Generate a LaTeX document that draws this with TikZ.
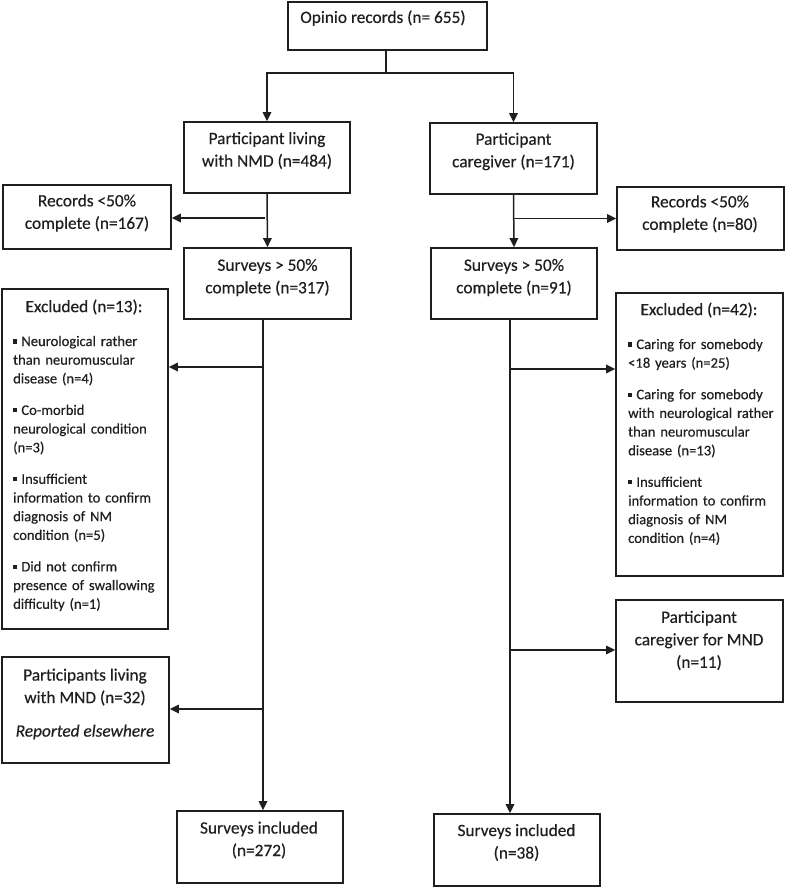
\documentclass[tikz,border=0pt]{standalone}
\usepackage{fontspec}
\setmainfont{Carlito}[FakeBold=0.4]
\usetikzlibrary{arrows.meta}
\newcommand{\sqb}{\rule[0.17em]{0.28em}{0.28em}\hspace{0.28em}}
\begin{document}
\begin{tikzpicture}[x=1pt,y=-1pt,
  box/.style={draw=black!88, line width=1.7pt, rectangle, inner sep=0pt},
  lbl/.style={align=center, inner sep=0pt, text=black!88, font=\fontsize{17.3}{22.5}\selectfont},
  blist/.style={align=left, text width=165pt, inner sep=0pt, anchor=base west, text=black!88, font=\fontsize{14.6}{18.7}\selectfont},
  conn/.style={draw=black!88, line width=1.5pt},
  arr/.style={conn, -{Triangle[length=9pt,width=8.5pt]}}]
\useasboundingbox (0,0) rectangle (787,887);
% boxes
\node[box, minimum width=199pt, minimum height=48pt] (op) at (387.5,26) {};
\node[box, minimum width=166pt, minimum height=71pt] (pl) at (267,157.5) {};
\node[box, minimum width=167pt, minimum height=71pt] (pc) at (513.5,158.5) {};
\node[box, minimum width=168pt, minimum height=64pt] (rl) at (87,217) {};
\node[box, minimum width=167pt, minimum height=63pt] (rr) at (700.5,218.5) {};
\node[box, minimum width=167pt, minimum height=71pt] (sl) at (267.5,283.5) {};
\node[box, minimum width=166pt, minimum height=71pt] (sr) at (514,283.5) {};
\node[box, minimum width=166pt, minimum height=340pt] (el) at (85,459) {};
\node[box, minimum width=167pt, minimum height=283pt] (er) at (699.5,434.5) {};
\node[box, minimum width=167pt, minimum height=106pt] (ml) at (85.5,710) {};
\node[box, minimum width=167pt, minimum height=102pt] (mr) at (699.5,651) {};
\node[box, minimum width=166pt, minimum height=72pt] (il) at (260,847) {};
\node[box, minimum width=166pt, minimum height=72pt] (ir) at (517,850) {};
% texts
\node[lbl] (opt) at (383,18) {Opinio records (n= 655)};
\node[lbl] (plt) at (267,150.5) {Participant living\\with NMD (n=484)};
\node[lbl] (pct) at (513.5,151.5) {Participant\\caregiver (n=171)};
\node[lbl] (rlt) at (87,213) {Records <50\%\\complete (n=167)};
\node[lbl] (rrt) at (700,214) {Records <50\%\\complete (n=80)};
\node[lbl] (slt) at (267.5,277.5) {Surveys > 50\%\\complete (n=317)};
\node[lbl] (srt) at (514,277.5) {Surveys > 50\%\\complete (n=91)};
\node[lbl] (elt) at (84,307) {Excluded (n=13):};
\node[lbl] (ert) at (699,310) {Excluded (n=42):};
\node[blist] (elb) at (13,346) {\sqb Neurological rather\\than neuromuscular\\disease (n=4)\\[12.8pt]
\sqb Co-morbid\\neurological condition\\(n=3)\\[12.8pt]
\sqb Insufficient\\information to confirm\\diagnosis of NM\\condition (n=5)\\[12.8pt]
\sqb Did not confirm\\presence of swallowing\\difficulty (n=1)};
\node[blist] (erb) at (628,349) {\sqb Caring for somebody\\<18 years (n=25)\\[12.8pt]
\sqb Caring for somebody\\with neurological rather\\than neuromuscular\\disease (n=13)\\[12.8pt]
\sqb Insufficient\\information to confirm\\diagnosis of NM\\condition (n=4)};
\node[lbl] (mlt) at (85,704) {Participants living\\with MND (n=32)\\[11pt]\textit{Reported elsewhere}};
\node[lbl] (mrt) at (699,640.5) {Participant\\caregiver for MND\\(n=11)};
\node[lbl] (ilt) at (259,840) {Surveys included\\(n=272)};
\node[lbl] (irt) at (516.5,842.5) {Surveys included\\(n=38)};
% connectors
\coordinate (j0) at (386,73);
\draw[conn] (op.south -| j0) -- (j0);
\draw[arr] (j0) -| (pl.north);
\draw[arr] (j0) -| (pc.north);
\draw[arr] (pl.south) -- (sl.north);
\coordinate (b1) at (265,218);
\draw[arr] (b1) -- (b1 -| rl.east);
\draw[arr] (pc.south) -- (sr.north);
\coordinate (b2) at (514,218.5);
\draw[arr] (b2) -- (b2 -| rr.west);
\coordinate (vl) at (263,367);
\draw[arr] (sl.south -| vl) -- (il.north -| vl);
\draw[arr] (vl) -- (vl -| el.east);
\coordinate (vl2) at (263,709);
\draw[arr] (vl2) -- (vl2 -| ml.east);
\coordinate (vr) at (510,369);
\draw[arr] (sr.south -| vr) -- (ir.north -| vr);
\draw[arr] (vr) -- (vr -| er.west);
\coordinate (vr2) at (510,650);
\draw[arr] (vr2) -- (vr2 -| mr.west);
\end{tikzpicture}
\end{document}
